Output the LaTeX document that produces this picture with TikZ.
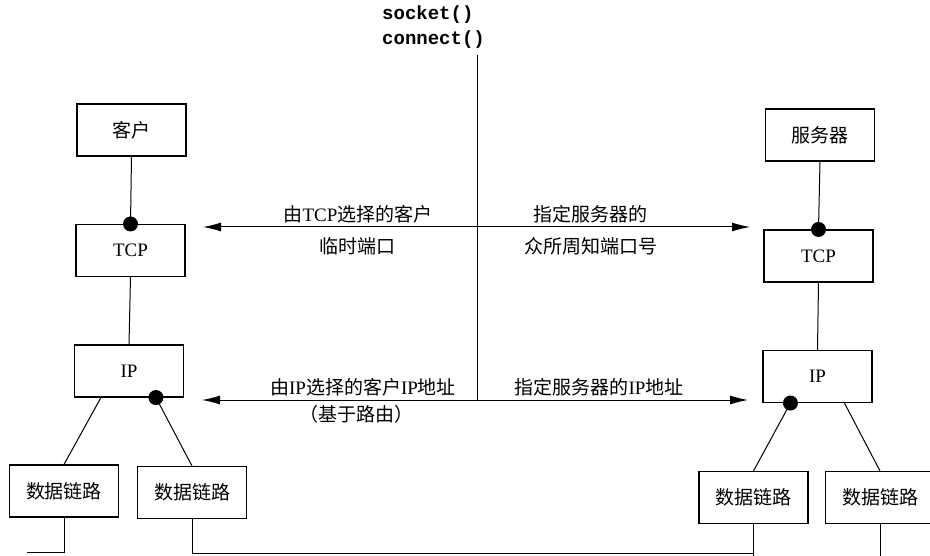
\documentclass[tikz,border=0pt]{standalone}
\usepackage{fontspec}
\setmainfont{Liberation Serif}
\setmonofont{Liberation Mono}
\newfontfamily\cjk{Noto Sans CJK SC}
\usetikzlibrary{arrows.meta,calc}
\begin{document}
\begin{tikzpicture}[x=1pt,y=-1pt,
  box/.style={draw,line width=1.1pt,minimum width=109pt,minimum height=52pt,inner sep=0pt,font=\fontsize{19}{22}\selectfont},
  lbl/.style={inner sep=0pt,font=\fontsize{19}{22}\selectfont},
  mono/.style={inner sep=0pt,anchor=west,font=\fontsize{19}{22}\selectfont\ttfamily\bfseries},
  ln/.style={line width=1pt},
  arr/.style={line width=1pt,{Latex[length=18pt,width=9pt]}-{Latex[length=18pt,width=9pt]}},
  dot/.style={circle,fill,inner sep=0pt,minimum size=15pt}]
\useasboundingbox (0,0) rectangle (930,556);
% boxes
\node[box] (client) at (131.5,130) {\cjk 客户};
\node[box] (tcpl) at (130.5,250.5) {TCP};
\node[box] (ipl) at (129,371) {IP};
\node[box] (dl1) at (64,491) {\cjk 数据链路};
\node[box] (dl2) at (192,492.5) {\cjk 数据链路};
\node[box] (server) at (820,135) {\cjk 服务器};
\node[box] (tcpr) at (818.5,256) {TCP};
\node[box] (ipr) at (817.5,376.5) {IP};
\node[box] (dl3) at (753.5,497.5) {\cjk 数据链路};
\node[box] (dl4) at (880,497.5) {\cjk 数据链路};
% connectors left
\draw[ln] (client.south) -- (tcpl.north);
\draw[ln] (tcpl.south) -- (ipl.north);
\coordinate (iplL) at ($(ipl.south west)+(27,0)$);
\coordinate (iplR) at ($(ipl.south west)+(82,0)$);
\draw[ln] (iplL) -- (dl1.north);
\draw[ln] (iplR) -- (dl2.north);
% connectors right
\draw[ln] (server.south) -- (tcpr.north);
\draw[ln] (tcpr.south) -- (ipr.north);
\coordinate (iprL) at ($(ipr.south west)+(28,0)$);
\coordinate (iprR) at ($(ipr.south west)+(82,0)$);
\draw[ln] (iprL) -- (dl3.north);
\draw[ln] (iprR) -- (dl4.north);
% bottom network lines
\coordinate (e1) at (27,552);
\coordinate (b2) at (753.5,553);
\coordinate (e3) at (753.5,562);
\coordinate (e4) at (880,562);
\draw[ln] (dl1.south) |- (e1);
\draw[ln] (dl2.south) |- (b2);
\draw[ln] (dl3.south) -- (e3);
\draw[ln] (dl4.south) -- (e4);
% dots
\node[dot] (d1) at (tcpl.north) {};
\node[dot] (d2) at (tcpr.north) {};
\node[dot] (d3) at (iplR) {};
\node[dot] (d4) at (iprL) {};
% central line and arrows
\coordinate (vt) at (477,55);
\coordinate (vb) at (477,400);
\coordinate (a1l) at (203,227);
\coordinate (a1r) at (750,227);
\coordinate (a2l) at (202,400);
\coordinate (a2r) at (748,400);
\draw[ln] (vt) -- (vb);
\draw[arr] (a1l) -- (a1r);
\draw[arr] (a2l) -- (a2r);
% labels
\node[mono] (s1) at (382,15) {socket()};
\node[mono] (s2) at (382,40) {connect()};
\node[lbl] (t1) at (358,214) {{\cjk 由}TCP{\cjk 选择的客户}};
\node[lbl] (t2) at (357,246) {\cjk 临时端口};
\node[lbl] (t3) at (590,214) {\cjk 指定服务器的};
\node[lbl] (t4) at (591,246) {\cjk 众所周知端口号};
\node[lbl] (t5) at (363,387) {{\cjk 由}IP{\cjk 选择的客户}IP{\cjk 地址}};
\node[lbl] (t6) at (356,414) {\cjk （基于路由）};
\node[lbl] (t7) at (599,387) {{\cjk 指定服务器的}IP{\cjk 地址}};
\end{tikzpicture}
\end{document}
